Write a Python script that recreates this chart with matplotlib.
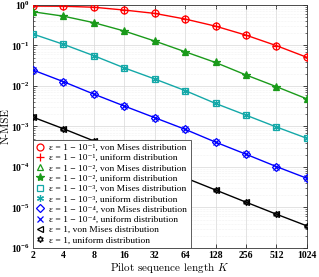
import matplotlib
matplotlib.use('Agg')
import matplotlib.pyplot as plt
from matplotlib.ticker import LogLocator, NullFormatter, FixedLocator, FixedFormatter

plt.rcParams['mathtext.fontset'] = 'custom'
plt.rcParams['mathtext.rm'] = 'Liberation Serif:bold'
plt.rcParams['mathtext.bf'] = 'Liberation Serif:bold'
plt.rcParams['font.family'] = 'Liberation Serif'

# pilot sequence length
K = [2, 4, 8, 16, 32, 64, 128, 256, 512, 1024]
k_labels = ['2', '4', '8', '16', '32', '64', '128', '256', '512', '1024']

# N-MSE, von Mises distribution
vm_1 = [0.94, 0.93, 0.88, 0.75, 0.62, 0.45, 0.30, 0.18, 0.099, 0.051]
vm_2 = [0.68, 0.53, 0.366, 0.228, 0.129, 0.070, 0.038, 0.0187, 0.0096, 0.0048]
vm_3 = [0.192, 0.107, 0.056, 0.028, 0.0149, 0.0077, 0.0037, 0.0019, 0.00097, 0.00051]
vm_4 = [0.0248, 0.0128, 0.0063, 0.0032, 0.00165, 0.00085, 0.00041, 0.000206, 0.000102, 0.0000525]
vm_5 = [0.0017, 0.00088, 0.00044, 0.00022, 0.000108, 0.000054, 0.000027, 0.0000135, 0.0000068, 0.0000035]

# N-MSE, uniform distribution (lies on top of the von Mises curves)
uni_1 = [0.94, 0.93, 0.88, 0.75, 0.62, 0.45, 0.30, 0.18, 0.099, 0.051]
uni_2 = [0.68, 0.53, 0.366, 0.228, 0.129, 0.070, 0.038, 0.0187, 0.0096, 0.0048]
uni_3 = [0.192, 0.107, 0.056, 0.028, 0.0149, 0.0077, 0.0037, 0.0019, 0.00097, 0.00051]
uni_4 = [0.0248, 0.0128, 0.0063, 0.0032, 0.00165, 0.00085, 0.00041, 0.000206, 0.000102, 0.0000525]
uni_5 = [0.0017, 0.00088, 0.00044, 0.00022, 0.000108, 0.000054, 0.000027, 0.0000135, 0.0000068, 0.0000035]

eps_txt = ['ε = 1 − 10⁻¹', 'ε = 1 − 10⁻²', 'ε = 1 − 10⁻³', 'ε = 1 − 10⁻⁴', 'ε = 1']

vm_all = [vm_1, vm_2, vm_3, vm_4, vm_5]
uni_all = [uni_1, uni_2, uni_3, uni_4, uni_5]
colors = ['#ff0000', '#1a9a1a', '#14a8a8', '#0000ff', '#000000']
vm_markers = ['o', '^', 's', 'D', '<']
uni_markers = ['+', '*', (6, 2, 0), 'x', (6, 1, 0)]
vm_sizes = [5, 5, 4.5, 4.5, 5]
uni_sizes = [6, 6, 5, 4.5, 4.5]

fig = plt.figure(figsize=(3.19, 2.77), dpi=100)
ax = fig.add_axes([0.103, 0.105, 0.859, 0.877])

for i in range(5):
    c = colors[i]
    ax.plot(K, vm_all[i], color=c, lw=1.0, zorder=2)
    ax.plot(K, vm_all[i], ls='none', marker=vm_markers[i], ms=vm_sizes[i],
            mfc='none', mec=c, mew=0.9, zorder=3,
            label=eps_txt[i] + ', von Mises distribution')
    fill = c if uni_markers[i] == '*' else 'none'
    ax.plot(K, uni_all[i], ls='none', marker=uni_markers[i], ms=uni_sizes[i],
            mfc=fill, mec=c, mew=0.9, zorder=4,
            label=eps_txt[i] + ', uniform distribution')

ax.set_xscale('log', base=2)
ax.set_yscale('log')
ax.set_xlim(2, 1024)
ax.set_ylim(1e-6, 1)

ax.xaxis.set_major_locator(FixedLocator(K))
ax.xaxis.set_major_formatter(FixedFormatter(k_labels))
ax.xaxis.set_minor_locator(FixedLocator([]))
ax.yaxis.set_minor_locator(LogLocator(base=10, subs=range(2, 10), numticks=20))
ax.yaxis.set_minor_formatter(NullFormatter())
ax.set_yticks([1e-6, 1e-5, 1e-4, 1e-3, 1e-2, 1e-1, 1])
ax.set_yticklabels([r'$\mathbf{10^{-6}}$', r'$\mathbf{10^{-5}}$', r'$\mathbf{10^{-4}}$',
                    r'$\mathbf{10^{-3}}$', r'$\mathbf{10^{-2}}$', r'$\mathbf{10^{-1}}$',
                    r'$\mathbf{10^{0}}$'])

ax.tick_params(which='both', direction='in', top=True, right=True, labelsize=7, pad=2)
ax.tick_params(which='major', length=3, width=0.5)
ax.tick_params(which='minor', length=1.5, width=0.4)
for lab in ax.get_xticklabels():
    lab.set_fontweight('bold')

ax.grid(True, which='major', color='#d8d8d8', lw=0.5)
ax.grid(True, which='minor', axis='y', color='#e6e6e6', lw=0.4, ls=':')
ax.set_axisbelow(True)
for sp in ax.spines.values():
    sp.set_linewidth(0.6)
    sp.set_color('#333333')

ax.set_xlabel(r'Pilot sequence length $K$', fontsize=8, math_fontfamily='cm', labelpad=1)
ax.set_ylabel('N-MSE', fontsize=8, labelpad=0)
ax.xaxis.label.set_family('cmr10')
ax.yaxis.label.set_family('cmr10')

leg = ax.legend(loc='lower left', fontsize=6.8, handlelength=0.9, handletextpad=0.5,
                labelspacing=0.18, borderpad=0.35, borderaxespad=0.0,
                fancybox=False, edgecolor='#444444', framealpha=1)
leg.get_frame().set_linewidth(0.6)
for t in leg.get_texts():
    t.set_family(['Liberation Serif', 'DejaVu Serif'])

fig.savefig('out.png', dpi=100)
